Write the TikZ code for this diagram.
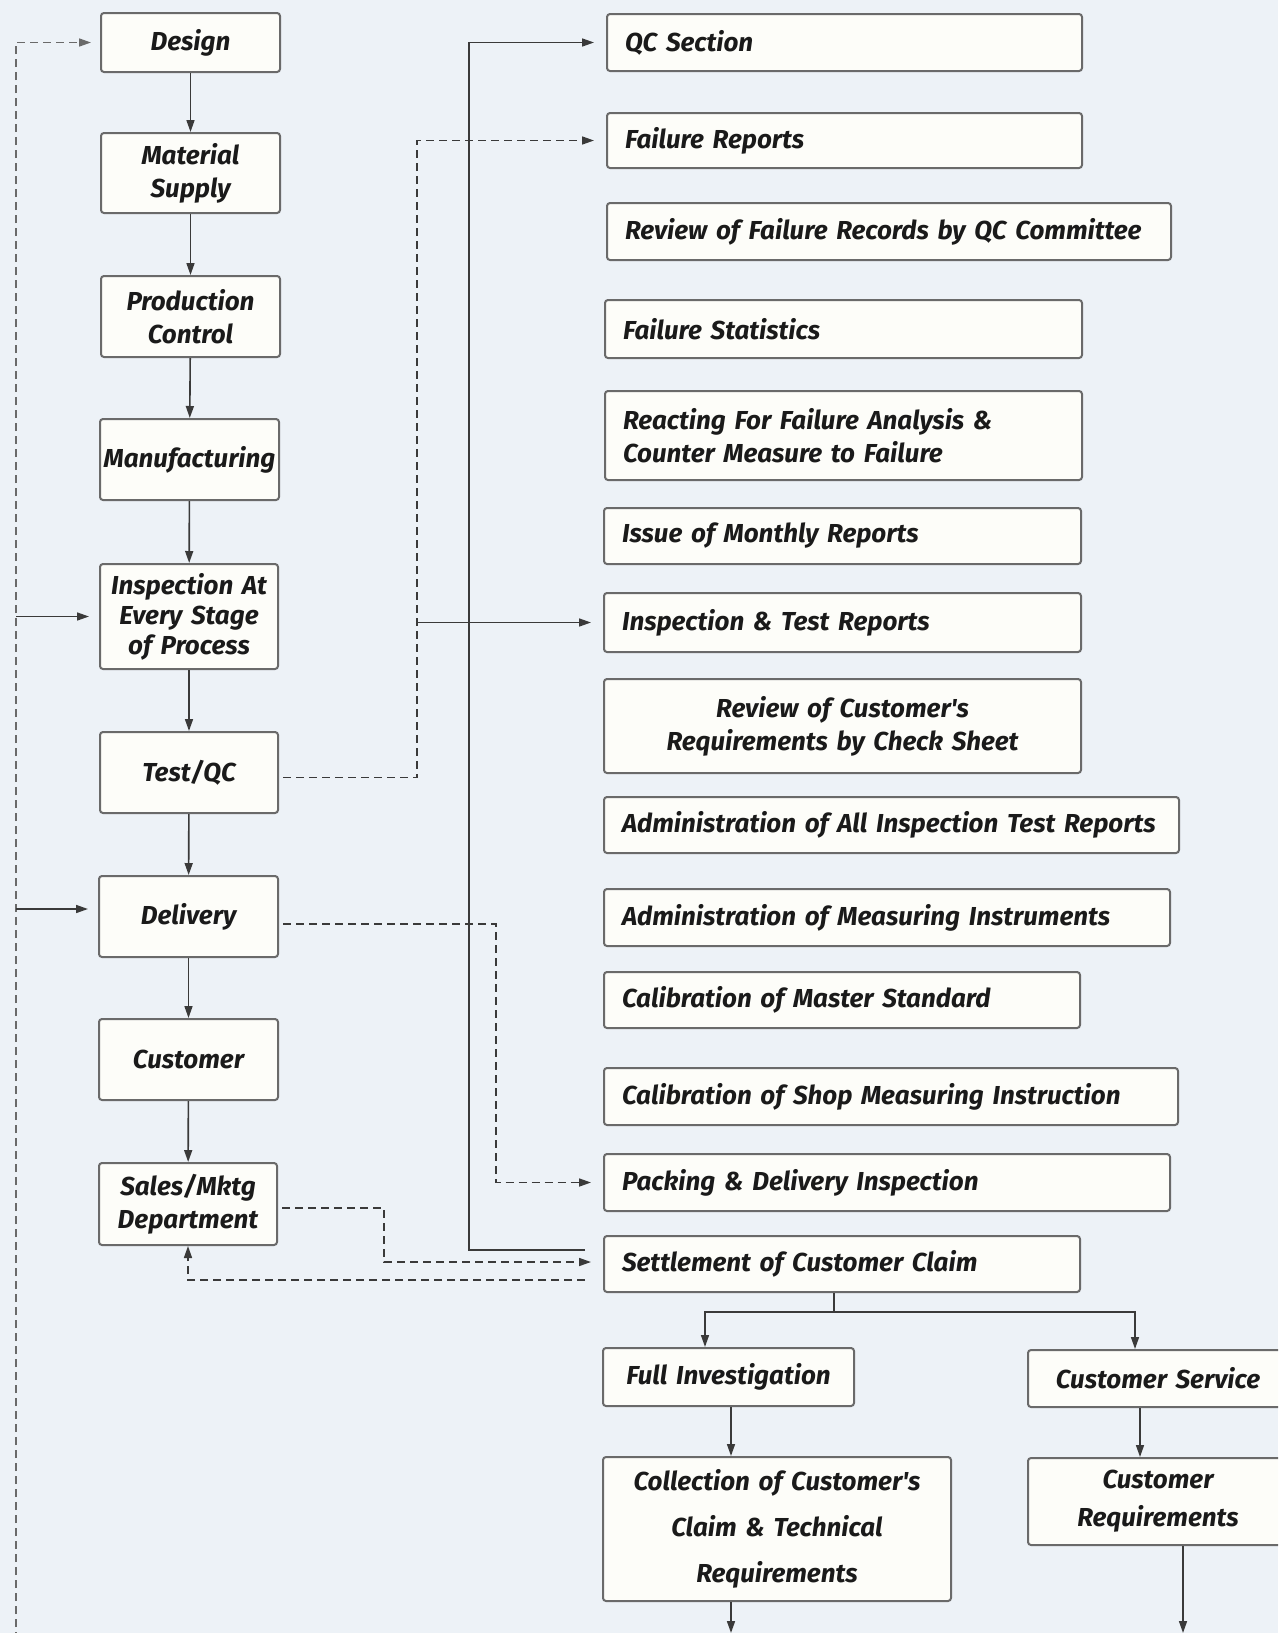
\documentclass[tikz,border=0pt]{standalone}
\usepackage{fontspec}
\setmainfont{Fira Sans}
\newfontfamily\boxfont{Fira Sans}
\usetikzlibrary{arrows.meta}
\definecolor{bgc}{HTML}{EDF2F7}
\definecolor{boxfill}{HTML}{FDFDF9}
\definecolor{boxc}{HTML}{6A6A6A}
\definecolor{linec}{HTML}{3A3A3A}
\definecolor{txtc}{HTML}{1A1A1A}
\tikzset{
  box/.style={draw=boxc, line width=2pt, fill=boxfill, rounded corners=3pt,
    inner ysep=0pt, text=txtc, font=\boxfont\bfseries\itshape\fontsize{26}{33}\selectfont},
  lbox/.style={box, align=left, inner xsep=18pt},
  cbox/.style={box, align=center, inner xsep=2pt},
  conn/.style={draw=linec, line width=1.6pt},
  arr/.style={conn, -{Triangle[length=12pt,width=8pt]}},
  dsh/.style={dash pattern=on 8pt off 5pt},
}
\begin{document}
\begin{tikzpicture}[x=1pt,y=-1pt]
\useasboundingbox (0,0) rectangle (1278,1633);
\clip (0,0) rectangle (1278,1633);
\fill[bgc] (0,0) rectangle (1278,1633);
% left column
\node[cbox, minimum width=179pt, minimum height=59pt, text width=175pt] (design) at (190.5,42.5) {Design};
\node[cbox, minimum width=179pt, minimum height=80pt, text width=175pt] (mat) at (190.5,173) {Material\\Supply};
\node[cbox, minimum width=179pt, minimum height=81pt, text width=175pt] (prod) at (190.5,316.5) {Production\\Control};
\node[cbox, minimum width=179pt, minimum height=81pt, text width=175pt] (manu) at (189.5,459.5) {Manufacturing};
\node[cbox, minimum width=178pt, minimum height=105pt, text width=174pt, font=\boxfont\bfseries\itshape\fontsize{26}{30}\selectfont] (insp) at (189,616.5) {Inspection At\\Every Stage\\of Process};
\node[cbox, minimum width=178pt, minimum height=81pt, text width=174pt] (test) at (189,772.5) {Test/QC};
\node[cbox, minimum width=179pt, minimum height=81pt, text width=175pt] (deliv) at (188.5,916.5) {Delivery};
\node[cbox, minimum width=179pt, minimum height=81pt, text width=175pt] (cust) at (188.5,1059.5) {Customer};
\node[cbox, minimum width=178pt, minimum height=82pt, text width=174pt] (sales) at (188,1204) {Sales/Mktg\\Department};
% right column
\node[lbox, minimum width=475pt, minimum height=57pt, text width=439pt] (qc) at (844.5,42.5) {QC Section};
\node[lbox, minimum width=475pt, minimum height=55pt, text width=439pt] (frep) at (844.5,140.5) {Failure Reports};
\node[lbox, minimum width=564pt, minimum height=57pt, text width=528pt] (rfr) at (889,231.5) {Review of Failure Records by QC Committee};
\node[lbox, minimum width=477pt, minimum height=58pt, text width=441pt] (fstat) at (843.5,329) {Failure Statistics};
\node[lbox, minimum width=477pt, minimum height=89pt, text width=441pt] (react) at (843.5,435.5) {Reacting For Failure Analysis \&\\Counter Measure to Failure};
\node[lbox, minimum width=477pt, minimum height=56pt, text width=441pt] (issue) at (842.5,536) {Issue of Monthly Reports};
\node[lbox, minimum width=477pt, minimum height=59pt, text width=441pt] (itr) at (842.5,622.5) {Inspection \& Test Reports};
\node[cbox, minimum width=477pt, minimum height=94pt, text width=473pt] (rcr) at (842.5,726) {Review of Customer's\\Requirements by Check Sheet};
\node[lbox, minimum width=575pt, minimum height=56pt, text width=539pt] (aitr) at (891.5,825) {Administration of All Inspection Test Reports};
\node[lbox, minimum width=566pt, minimum height=57pt, text width=530pt] (ami) at (887,917.5) {Administration of Measuring Instruments};
\node[lbox, minimum width=476pt, minimum height=56pt, text width=440pt] (cms) at (842,1000) {Calibration of Master Standard};
\node[lbox, minimum width=574pt, minimum height=57pt, text width=538pt] (csmi) at (891,1096.5) {Calibration of Shop Measuring Instruction};
\node[lbox, minimum width=566pt, minimum height=57pt, text width=530pt] (pdi) at (887,1182.5) {Packing \& Delivery Inspection};
\node[lbox, minimum width=476pt, minimum height=56pt, text width=440pt] (scc) at (842,1264) {Settlement of Customer Claim};
% bottom boxes
\node[cbox, minimum width=251pt, minimum height=58pt, text width=247pt] (fi) at (728.5,1377) {Full Investigation};
\node[cbox, minimum width=260pt, minimum height=57pt, text width=256pt] (cs) at (1158,1378.5) {Customer Service};
\node[cbox, minimum width=348pt, minimum height=144pt, text width=344pt, font=\boxfont\bfseries\itshape\fontsize{26}{46}\selectfont] (coll) at (777,1529) {Collection of Customer's\\Claim \& Technical\\Requirements};
\node[cbox, minimum width=260pt, minimum height=87pt, text width=256pt, font=\boxfont\bfseries\itshape\fontsize{26}{38}\selectfont] (creq) at (1158,1501.5) {Customer\\Requirements};
% coordinates
\coordinate (lbot) at (16,1640);
\coordinate (vx) at (469,0);
\coordinate (tx) at (417,0);
\coordinate (dx) at (496,0);
\coordinate (sx) at (384,0);
\coordinate (hub) at (834,1312);
\coordinate (collout) at (731,1633);
\coordinate (creqout) at (1183,1633);
% left column arrows
\draw[arr] (design) -- (mat);
\draw[arr] (mat) -- (prod);
\draw[arr] (prod) -- (manu);
\draw[arr] (manu) -- (insp);
\draw[arr] (insp) -- (test);
\draw[arr] (test) -- (deliv);
\draw[arr] (deliv) -- (cust);
\draw[arr] (cust) -- (sales);
% left feedback dashed line
\draw[arr, dsh, draw=boxc, shorten >=9pt] (lbot) |- (design.west);
\draw[arr, shorten >=10pt] (lbot |- insp.west) -- (insp.west);
\draw[arr, shorten >=10pt] (lbot |- 0,909) -- (deliv.west |- 0,909);
% QC section line from settlement
\draw[arr, shorten <=18pt, shorten >=12pt] ([yshift=14pt]scc.west) -| (vx |- qc.west) -- (qc.west);
% Test/QC dashed to failure reports
\draw[arr, dsh, shorten <=4pt, shorten >=12pt] ([yshift=-5pt]test.east) -| (tx |- frep.west) -- (frep.west);
\draw[arr, shorten >=12pt] (tx |- itr.west) -- (itr.west);
% Delivery dashed to packing
\draw[arr, dsh, shorten <=4pt, shorten >=12pt] ([yshift=-7.5pt]deliv.east) -| (dx |- pdi.west) -- (pdi.west);
% Sales dashed to settlement
\draw[arr, dsh, shorten <=4pt, shorten >=12pt] ([yshift=-4pt]sales.east) -| (sx |- 0,1262) -- (scc.west |- 0,1262);
% Settlement back to sales
\draw[arr, dsh, shorten <=18pt] ([yshift=-16pt]scc.west) -| (sales.south);
% branches
\draw[conn] (scc.south -| hub) -- (hub);
\draw[arr] (hub) -| (fi.north -| 705,0);
\draw[arr] (hub) -| (cs.north -| 1135,0);
\draw[arr] (fi.south -| 731,0) -- (coll.north -| 731,0);
\draw[arr] (cs.south -| 1140,0) -- (creq.north -| 1140,0);
\draw[arr] (coll.south -| collout) -- (collout);
\draw[arr] (creq.south -| creqout) -- (creqout);
\end{tikzpicture}
\end{document}
